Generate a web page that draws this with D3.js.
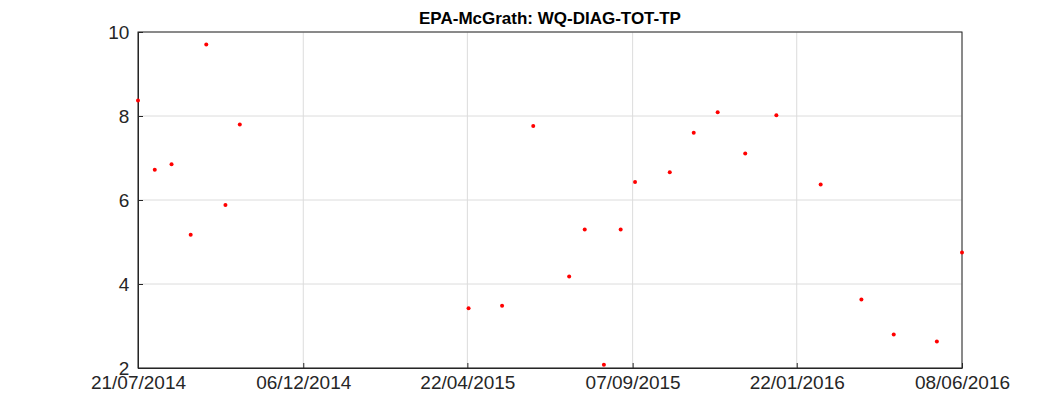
<!DOCTYPE html>
<html lang="en">
<head>
<meta charset="UTF-8">
<title>EPA-McGrath</title>
<script src="https://cdn.jsdelivr.net/npm/d3@7"></script>
<style>body{margin:0;background:#fff;} text{font-family:"Liberation Sans",Arial,sans-serif;}</style>
</head>
<body>
<script>
    let width = 1063, height = 413;
    let margin = {left: 138, right: 101, top: 32, bottom: 45};

    // sample dates and values
    let dates = ['2014-07-21','2014-08-04','2014-08-18','2014-09-03','2014-09-16','2014-10-02','2014-10-14',
        '2015-04-23','2015-05-21','2015-06-16','2015-07-16','2015-07-29','2015-08-14','2015-08-28','2015-09-09',
        '2015-10-08','2015-10-28','2015-11-17','2015-12-10','2016-01-05','2016-02-11','2016-03-16','2016-04-12',
        '2016-05-18','2016-06-08'];
    let values = [8.37,6.72,6.85,5.17,9.70,5.88,7.80,3.42,3.48,7.76,4.18,5.30,2.08,5.30,6.43,
        6.66,7.60,8.09,7.11,8.02,6.37,3.63,2.80,2.63,4.75];
    let xTicks = ['2014-07-21','2014-12-06','2015-04-22','2015-09-07','2016-01-22','2016-06-08'];
    let yTicks = [2, 4, 6, 8, 10];

    let parse = d3.utcParse('%Y-%m-%d');
    let svg = d3.select('body').append('svg').attr('width', width).attr('height', height);

    let x = d3.scaleUtc().domain([parse(xTicks[0]), parse(xTicks[5])])
        .range([margin.left, width - margin.right]);
    let y = d3.scaleLinear().domain([2, 10]).range([height - margin.bottom, margin.top]);

    // grid
    svg.append('g').selectAll('line').data(xTicks).enter().append('line')
        .attr('x1', d => x(parse(d))).attr('x2', d => x(parse(d)))
        .attr('y1', margin.top).attr('y2', height - margin.bottom)
        .attr('stroke', '#dcdcdc');
    svg.append('g').selectAll('line').data(yTicks).enter().append('line')
        .attr('y1', d => y(d)).attr('y2', d => y(d))
        .attr('x1', margin.left).attr('x2', width - margin.right)
        .attr('stroke', '#dcdcdc');

    let fmt = d3.utcFormat('%d/%m/%Y');
    let xAxis = svg.append('g').attr('transform', 'translate(0,' + (height - margin.bottom) + ')')
        .call(d3.axisBottom(x).tickValues(xTicks.map(parse)).tickFormat(fmt).tickSizeInner(-5).tickSizeOuter(0));
    let yAxis = svg.append('g').attr('transform', 'translate(' + margin.left + ',0)')
        .call(d3.axisLeft(y).tickValues(yTicks).tickSizeInner(-5).tickSizeOuter(0));
    [xAxis, yAxis].forEach(a => {
        a.selectAll('text').style('font-size', '19px').attr('fill', '#262626');
        a.selectAll('line,path').attr('stroke', '#262626');
    });
    xAxis.selectAll('text').attr('dy', '0.95em');
    yAxis.selectAll('text').attr('dx', '-0.3em');

    // top and right border
    svg.append('rect').attr('x', margin.left).attr('y', margin.top)
        .attr('width', width - margin.left - margin.right).attr('height', height - margin.top - margin.bottom)
        .attr('fill', 'none').attr('stroke', '#262626');

    svg.append('g').selectAll('circle').data(dates).enter().append('circle')
        .attr('cx', d => x(parse(d))).attr('cy', (d, i) => y(values[i]))
        .attr('r', 2).attr('fill', 'red');

    svg.append('text').attr('x', (margin.left + width - margin.right) / 2).attr('y', 24)
        .attr('text-anchor', 'middle').style('font-size', '17px').style('font-weight', 'bold')
        .text('EPA-McGrath: WQ-DIAG-TOT-TP');
</script>
</body>
</html>
